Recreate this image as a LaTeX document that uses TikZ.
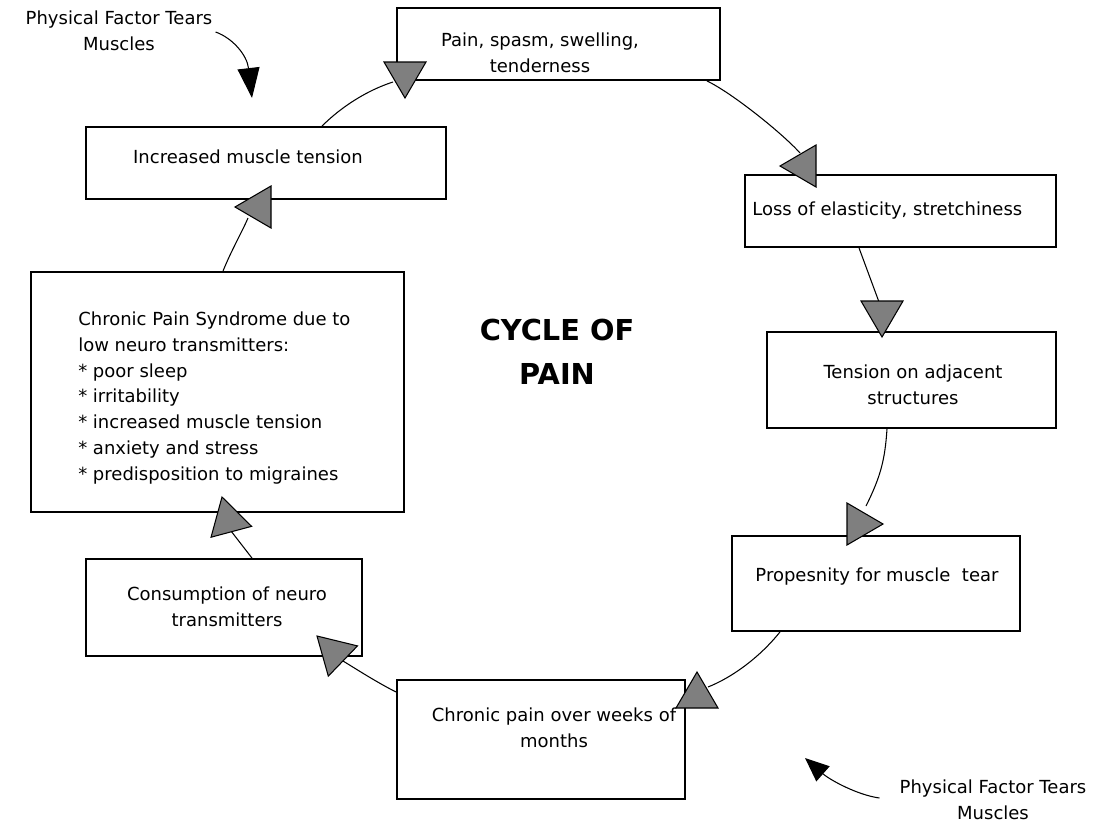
\documentclass[tikz,border=0pt]{standalone}
\usepackage{fontspec}
\setmainfont{DejaVu Sans}
\usepackage{tikz}
\usetikzlibrary{calc,arrows.meta}
\definecolor{headgray}{HTML}{7F7F7F}
\tikzset{box/.style={draw,line width=1.3pt,inner sep=0pt},
  sz/.style 2 args={minimum width=#1*0.025cm,minimum height=#2*0.025cm},
  txt/.style={inner sep=0pt,align=center,font=\fontsize{12.8}{18.4}\selectfont},
  link/.style={line width=0.75pt},
  cause/.style={line width=0.75pt,-{Triangle[length=0.75cm,width=0.55cm]}},
  head/.pic={\draw[fill=headgray,line width=0.75pt] (0,0) -- (-36,21) -- (-36,-21) -- cycle;}}

\begin{document}
\begin{tikzpicture}[x=0.025cm,y=-0.025cm]
\useasboundingbox (0,0) rectangle (1110,822);
\node[box,sz={323}{72}] (pain) at (558.5,44) {};
\node[box,sz={360}{72}] (incr) at (266,163) {};
\node[box,sz={311}{72}] (loss) at (900.5,211) {};
\node[box,sz={289}{96}] (tens) at (911.5,380) {};
\node[box,sz={373}{240}] (synd) at (217.5,392) {};
\node[box,sz={288}{95}] (prop) at (876,583.5) {};
\node[box,sz={276}{97}] (cons) at (224,607.5) {};
\node[box,sz={288}{119}] (chro) at (541,739.5) {};
\node[txt] (painT) at (540,53) {Pain, spasm, swelling,\\tenderness};
\node[txt] (incrT) at (248,157) {Increased muscle tension};
\node[txt,anchor=west] (lossT) at (752,211) {Loss of elasticity, stretchiness};
\node[txt] (tensT) at (913,385) {Tension on adjacent\\structures};
\node[txt,anchor=west,align=left] (syndT) at (78,398) {Chronic Pain Syndrome due to\\low neuro transmitters:\\* poor sleep\\* irritability\\* increased muscle tension\\* anxiety and stress\\* predisposition to migraines};
\node[txt] (propT) at (877,577) {Propesnity for muscle\ \ tear};
\node[txt] (consT) at (227,607) {Consumption of neuro\\transmitters};
\node[txt] (chroT) at (554,728) {Chronic pain over weeks of\\months};
\node[txt,font=\fontsize{20.5}{31}\selectfont\bfseries] (title) at (557,352) {CYCLE OF\\PAIN};
\node[txt] (phys1) at (119,31) {Physical Factor Tears\\Muscles};
\node[txt] (phys2) at (993,800) {Physical Factor Tears\\Muscles};
\coordinate (t1) at (405,98); \coordinate (t2) at (780,166);
\coordinate (t3) at (882,337); \coordinate (t4) at (883,524);
\coordinate (t5) at (697,672); \coordinate (t6) at (317,636);
\coordinate (t7) at (222,497); \coordinate (t8) at (235,207);
\draw[link] ($(incr.north)+(56,0)$) .. controls +(20,-20) and +(-25,8) .. ($(t1)+(-12,-16)$);
\draw[link] ($(pain.south east)+(-14,0)$) .. controls +(25,12) and +(-18,-20) .. ($(t2)+(20,-13)$);
\draw[link] ($(loss.south)+(-41.5,0)$) -- ($(t3)+(-3,-35)$);
\draw[link] ($(tens.south)+(-24.5,0)$) .. controls +(-2,30) and +(15,-30) .. ($(t4)+(-17,-18)$);
\draw[link] ($(prop.south)+(-96,0)$) .. controls +(-20,25) and +(25,-10) .. ($(t5)+(11,15)$);
\draw[link] ($(chro.west)+(0,-47.5)$) .. controls +(-20,-10) and +(10,6) .. ($(t6)+(26,25)$);
\draw[link] ($(cons.north)+(28,0)$) -- ($(t7)+(9,34)$);
\draw[link] ($(synd.north)+(5.5,0)$) .. controls +(8,-20) and +(-6,14) .. ($(t8)+(13,11)$);
\foreach \t/\r in {t1/-90,t2/180,t3/-90,t4/0,t5/90,t6/136,t7/105,t8/180}
  \pic[rotate=\r] at (\t) {head};
\coordinate (a1) at (252,98); \coordinate (a2) at (805,758);
\draw[cause] ($(phys1.east)+(3,1)$) .. controls +(17,6) and +(-5,-43) .. (a1);
\draw[cause,-{Triangle[length=0.6cm,width=0.5cm]}] ($(phys2.west)+(-20,-2)$) .. controls +(-22,-3) and +(25,22) .. (a2);
\end{tikzpicture}
\end{document}
